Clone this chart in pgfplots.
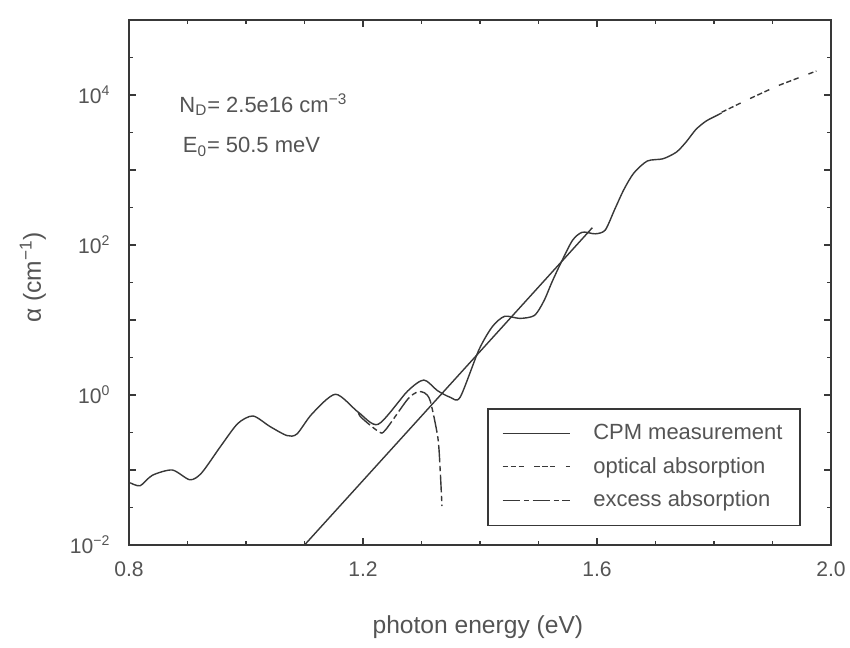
\documentclass[border=0pt]{standalone}
\usepackage{fontspec}
\setmainfont{Liberation Sans}
\usepackage{pgfplots}
\pgfplotsset{compat=1.18}
\definecolor{ink}{gray}{0.22}
\definecolor{txt}{gray}{0.33}
\begin{document}
\begin{tikzpicture}[x=1cm,y=1cm]
\useasboundingbox (-2.58,-2.06) rectangle (14.42,10.9);
\begin{axis}[
  at={(0,0)}, anchor=south west,
  scale only axis, width=14.04cm, height=10.5cm,
  ymode=log, xmin=0.8, xmax=2.0, ymin=1e-2, ymax=1e5,
  xtick={0.8,1.2,1.6,2.0}, xticklabels={0.8,1.2,1.6,2.0},
  minor xtick={0.9,1.0,1.1,1.3,1.4,1.5,1.7,1.8,1.9},
  ytick={1e-2,1e-1,1,1e1,1e2,1e3,1e4,1e5},
  yticklabels={10\textsuperscript{−2},,10\textsuperscript{0},,10\textsuperscript{2},,10\textsuperscript{4},},
  minor ytick={0.0316,0.316,3.16,31.6,316,3162,31623},
  tick align=inside,
  major tick length=4pt, minor tick length=2.5pt,
  axis line style={ink, line width=0.9pt},
  every tick/.style={ink, line width=0.6pt},
  tick label style={txt, font=\fontsize{12}{14}\selectfont},
  xticklabel style={yshift=-0.22cm},
  yticklabel style={xshift=-0.25cm},
  xlabel={photon energy (eV)},
  ylabel={α (cm\textsuperscript{−1})},
  label style={txt, font=\fontsize{14}{16}\selectfont},
  xlabel style={at={(axis description cs:0.497,-0.156)}, anchor=center},
  ylabel style={at={(axis description cs:-0.137,0.51)}, anchor=center},
  legend style={at={(axis description cs:0.957,0.036)}, anchor=south east,
    draw=ink, line width=0.8pt, text=txt, font=\fontsize{12.5}{15}\selectfont,
    inner xsep=8pt, inner ysep=7pt, row sep=4.5pt,
    /tikz/every odd column/.append style={column sep=0.38cm}},
  legend cell align=left,
  legend image code/.code={\draw[#1, line width=0.7pt] (0cm,0cm) -- (1.35cm,0cm);},
]
\addplot[ink, line width=0.8pt, smooth, tension=0.45] coordinates {
(0.802,0.0676) (0.819,0.0617) (0.840,0.0851) (0.874,0.100) (0.904,0.0741)
(0.924,0.0912) (0.957,0.209) (0.986,0.417) (1.012,0.525) (1.041,0.380)
(1.070,0.288) (1.087,0.302) (1.113,0.562) (1.153,1.023) (1.192,0.589)
(1.226,0.407) (1.276,1.122) (1.304,1.585) (1.327,1.148) (1.349,0.933)
(1.366,0.933) (1.398,3.98) (1.421,8.13) (1.442,11.2) (1.468,10.5)
(1.493,11.5) (1.509,17.8) (1.523,32) (1.537,55.0)
(1.558,115) (1.575,148) (1.597,141) (1.614,158) (1.630,295)
(1.646,550) (1.663,912) (1.686,1318) (1.713,1413) (1.736,1738)
(1.753,2399) (1.769,3467) (1.786,4467) (1.803,5248) (1.813,5754)
};
\addlegendentry{CPM measurement}
\addplot[ink, line width=0.8pt, dash pattern=on 3pt off 1.5pt on 3pt off 1.5pt on 3pt off 6pt] coordinates {
(1.813,5888) (1.858,8710) (1.908,13183) (1.975,20893)
};
\addlegendentry{optical absorption}
\addplot[ink, line width=0.8pt, smooth, tension=0.45, dash pattern=on 10pt off 2pt on 3pt off 2pt] coordinates {
(1.192,0.589) (1.197,0.501) (1.227,0.324) (1.238,0.339) (1.276,0.871)
(1.293,1.096) (1.305,1.072) (1.315,0.832) (1.328,0.269) (1.332,0.0977) (1.335,0.0331)
};
\addlegendentry{excess absorption}
\addplot[ink, line width=0.8pt, forget plot] coordinates {(1.10,0.01) (1.592,170)};
\node[txt, anchor=west, font=\fontsize{12.5}{15}\selectfont] at (axis description cs:0.063,0.838) {N\textsubscript{D}= 2.5e16 cm\textsuperscript{−3}};
\node[txt, anchor=west, font=\fontsize{12.5}{15}\selectfont] at (axis description cs:0.068,0.758) {E\textsubscript{0}= 50.5 meV};
\end{axis}
\end{tikzpicture}
\end{document}
